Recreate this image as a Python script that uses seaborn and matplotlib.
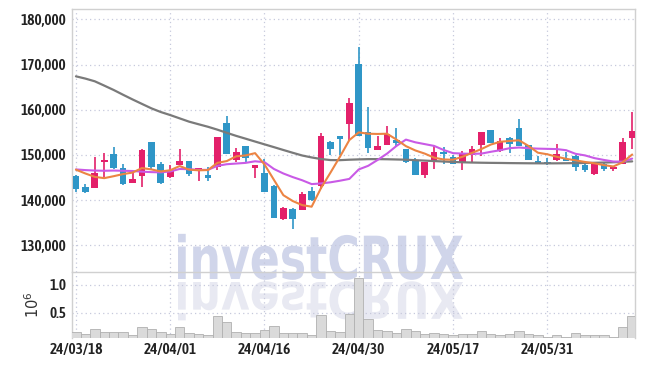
import numpy as np
import pandas as pd
import matplotlib
matplotlib.use('Agg')
import matplotlib.pyplot as plt
import seaborn as sns
from matplotlib import font_manager as fm
from matplotlib.textpath import TextPath
from matplotlib.patches import PathPatch
from matplotlib.font_manager import FontProperties
from matplotlib.transforms import Affine2D

# trading days (KRX), 24/03/18 .. 24/06/14
dates = ['24/03/18', '24/03/19', '24/03/20', '24/03/21', '24/03/22',
         '24/03/25', '24/03/26', '24/03/27', '24/03/28', '24/03/29',
         '24/04/01', '24/04/02', '24/04/03', '24/04/04', '24/04/05',
         '24/04/08', '24/04/09', '24/04/11', '24/04/12', '24/04/15',
         '24/04/16', '24/04/17', '24/04/18', '24/04/19', '24/04/22',
         '24/04/23', '24/04/24', '24/04/25', '24/04/26', '24/04/29',
         '24/04/30', '24/05/02', '24/05/03', '24/05/07', '24/05/08',
         '24/05/09', '24/05/10', '24/05/13', '24/05/14', '24/05/16',
         '24/05/17', '24/05/20', '24/05/21', '24/05/22', '24/05/23',
         '24/05/24', '24/05/27', '24/05/28', '24/05/29', '24/05/30',
         '24/05/31', '24/06/03', '24/06/04', '24/06/05', '24/06/07',
         '24/06/10', '24/06/11', '24/06/12', '24/06/13', '24/06/14']

open_ = [145300, 142900, 142750, 148500, 150250, 147100, 143800, 145400, 152800, 148000,
         145050, 147750, 148650, 146450, 145550, 147250, 157050, 148950, 152000, 147200,
         146000, 143100, 135900, 138100, 137900, 142000, 143200, 152850, 154200, 156900,
         170200, 155150, 151150, 152250, 153300, 151300, 148650, 145500, 148500, 150700,
         149550, 148150, 150050, 152250, 155500, 150850, 153700, 155950, 152200, 148650,
         148450, 148850, 149050, 149850, 147750, 145850, 147900, 146900, 148100, 153800]
high = [145550, 143600, 149500, 150500, 151700, 147900, 146000, 151300, 152800, 148400,
        147700, 151400, 148700, 147100, 147250, 154000, 158600, 151600, 152000, 147800,
        149100, 143300, 138400, 138300, 141800, 143000, 154900, 153000, 154300, 162600,
        173800, 160700, 154200, 156450, 156000, 151400, 149400, 148400, 151900, 151700,
        150000, 150950, 151900, 155100, 155500, 153800, 154000, 157900, 152200, 149800,
        149250, 152400, 150600, 149900, 147900, 148300, 148350, 147400, 153700, 159550]
low = [141800, 141500, 142700, 145050, 147000, 143400, 143700, 142800, 147000, 143600,
       145000, 147700, 145400, 144250, 144300, 146700, 150200, 148350, 148400, 145000,
       141800, 136000, 135600, 133600, 137800, 139900, 142500, 150100, 149900, 153300,
       154300, 150500, 151000, 152200, 151800, 148250, 145500, 144950, 147000, 147900,
       148000, 146650, 148450, 149750, 152550, 150600, 150400, 152000, 148900, 147950,
       147850, 148650, 148600, 146500, 146300, 145500, 146400, 146450, 148000, 151300]
close = [142500, 141700, 146000, 148950, 147100, 143600, 144650, 151100, 147400, 143850,
         146400, 148650, 145700, 147050, 144950, 153900, 150250, 150650, 149400, 147800,
         141850, 136100, 138300, 135900, 141350, 140000, 154250, 151400, 153600, 161400,
         154300, 151600, 151950, 154600, 152550, 148500, 145600, 148350, 150600, 150250,
         148100, 150500, 151350, 155050, 152700, 153050, 152500, 152050, 148950, 148000,
         147950, 150200, 148650, 147300, 146700, 148250, 146850, 147350, 152850, 155300]
volume = [146000, 110000, 200000, 146000, 146000, 146000, 90000, 236000, 200000, 146000,
          110000, 236000, 128000, 110000, 90000, 434000, 326000, 146000, 128000, 128000,
          180000, 254000, 128000, 128000, 128000, 90000, 450000, 163000, 146000, 470000,
          1120000, 380000, 180000, 163000, 128000, 200000, 163000, 110000, 128000, 110000,
          90000, 110000, 110000, 163000, 110000, 90000, 110000, 163000, 110000, 90000,
          70000, 90000, 70000, 128000, 90000, 90000, 90000, 70000, 236000, 434000]

# moving averages as drawn (short / mid / long)
ma_short = [146750, 145900, 145150, 144870, 145300, 145770, 146100, 147100, 146800, 146350,
            146620, 147550, 146750, 146600, 146660, 148250, 148650, 149700, 149900, 150400,
            147900, 144500, 141100, 139800, 138900, 138550, 142700, 146100, 149600, 153300,
            155000, 154700, 154650, 154700, 153400, 151950, 151000, 150300, 149400, 149000,
            148950, 149600, 150450, 151300, 152300, 152920, 153100, 153250, 152000, 150500,
            150150, 149600, 149150, 148800, 148450, 148150, 147750, 147450, 148400, 150100]
ma_mid = [146800, 146650, 146550, 146500, 146550, 146500, 146450, 146300, 146200, 146150,
          146350, 146900, 146850, 146700, 146700, 147600, 147950, 148100, 148250, 148600,
          148400, 146900, 145900, 145100, 144400, 143550, 143700, 143950, 144300, 144700,
          146800, 147600, 148900, 150300, 152000, 153400, 152800, 152400, 152000, 151100,
          150400, 150300, 150250, 150300, 150700, 151050, 151500, 151650, 151500, 151400,
          151350, 151300, 151050, 150250, 149900, 149300, 148900, 148550, 148500, 149200]
ma_long = [167400, 166900, 166300, 165350, 164380, 163320, 162290, 161300, 160320, 159500,
           158830, 158100, 157370, 156800, 156240, 155600, 154900, 154220, 153600, 152970,
           152350, 151730, 151100, 150480, 149880, 149450, 149100, 148870, 148850, 148950,
           149020, 149080, 149080, 149050, 149000, 148950, 148850, 148750, 148650, 148550,
           148450, 148380, 148320, 148280, 148250, 148230, 148200, 148180, 148160, 148150,
           148140, 148150, 148170, 148200, 148230, 148270, 148320, 148390, 148480, 148580]

df = pd.DataFrame({'date': dates, 'open': open_, 'high': high, 'low': low,
                   'close': close, 'volume': volume,
                   'ma_short': ma_short, 'ma_mid': ma_mid, 'ma_long': ma_long})
df['idx'] = np.arange(len(df))
df['up'] = df['close'] >= df['open']

sns.set_theme(style='white')
plt.rcParams['font.family'] = ['DejaVu Sans']


# look for a narrow face for the tick labels, else fall back
def pick_tick_font():
    best = None
    for f in fm.fontManager.ttflist:
        nm = f.name.lower()
        narrow = ('narrow' in nm or 'condensed' in nm or
                  str(f.stretch) in ('condensed', 'semi-condensed', 'extra-condensed'))
        if not narrow:
            continue
        w = f.weight if isinstance(f.weight, int) else (700 if 'bold' in str(f.weight) else 400)
        score = -abs(w - 600)
        if 'oblique' in f.style or 'italic' in f.style:
            continue
        if best is None or score > best[0]:
            best = (score, f.fname)
    if best is not None:
        return FontProperties(fname=best[1], size=11), True
    return FontProperties(family='Liberation Sans', weight='bold', size=9.5), False


tick_fp, is_narrow = pick_tick_font()

UP = '#e3206a'
DOWN = '#2f96c7'
GRID = '#c6c9dc'
SPINE = '#d0d0d0'

fig = plt.figure(figsize=(6.45, 3.66), dpi=100)
W, H = 645.0, 366.0
ax = fig.add_axes([71.7 / W, (H - 272) / H, 563.3 / W, 263 / H])
axv = fig.add_axes([71.7 / W, (H - 337.7) / H, 563.3 / W, 65.7 / H], sharex=ax)

# watermark behind everything
wm = fig.add_axes([0, 0, 1, 1], zorder=-1)
wm.set_xlim(0, W)
wm.set_ylim(H, 0)
wm.axis('off')
tp = TextPath((0, 0), 'investCRUX', size=100,
              prop=FontProperties(family='DejaVu Sans', weight='bold'))
bb = tp.get_extents()
sx = (463 - 178) / bb.width
sy = (279 - 233) / bb.height
tr_main = Affine2D().translate(-bb.x0, 0).scale(sx, -sy).translate(178, 279)
tr_refl = Affine2D().translate(-bb.x0, 0).scale(sx, sy * 0.85).translate(178, 282)
wm.add_patch(PathPatch(tr_main.transform_path(tp), facecolor='#d0d5ea', edgecolor='none'))
wm.add_patch(PathPatch(tr_refl.transform_path(tp), facecolor='#e8e9f2', edgecolor='none'))

for a in (ax, axv):
    a.set_facecolor('none')

# candles
colors = np.where(df['up'], UP, DOWN)
body_lo = np.minimum(df['open'], df['close'])
body_h = np.maximum(np.abs(df['close'] - df['open']), 150)
ax.vlines(df['idx'], df['low'], df['high'], colors=colors, linewidth=1.2, zorder=3)
ax.bar(df['idx'], body_h, bottom=body_lo, width=0.7, color=colors, linewidth=0, zorder=4)

# moving averages
sns.lineplot(data=df, x='idx', y='ma_long', ax=ax, color='#7a7a7a', linewidth=1.6, zorder=5)
sns.lineplot(data=df, x='idx', y='ma_mid', ax=ax, color='#c95ae6', linewidth=1.5, zorder=5)
sns.lineplot(data=df, x='idx', y='ma_short', ax=ax, color='#ec8443', linewidth=1.5, zorder=6)

# volume
sns.barplot(x=df['idx'], y=df['volume'] / 1e6, native_scale=True, width=1.0,
            color='#dadada', edgecolor='#b0b0b0', linewidth=0.6, ax=axv, zorder=3)

ticks = df['idx'][::10]
ax.set_xlim(-0.45, 59.3)
ax.set_ylim(124100, 182300)
ax.set_yticks(range(130000, 180001, 10000))
ax.set_yticklabels([f'{v:,}' for v in range(130000, 180001, 10000)])
axv.set_ylim(0.05, 1.23)
axv.set_yticks([0.5, 1.0])
axv.set_yticklabels(['0.5', '1.0'])
axv.set_xticks(ticks)
axv.set_xticklabels(df['date'][::10])
ax.tick_params(axis='x', labelbottom=False, length=0)

for a in (ax, axv):
    a.set_xlabel('')
    a.set_ylabel('')
    a.grid(True, color=GRID, linestyle=(0, (1, 2.5)), linewidth=0.9)
    a.set_axisbelow(True)
    a.tick_params(axis='both', length=0, labelcolor='#222222', pad=4)
    for lab in a.get_yticklabels() + a.get_xticklabels():
        lab.set_fontproperties(tick_fp)
    for s in a.spines.values():
        s.set_color(SPINE)
        s.set_linewidth(1.0)
axv.spines['bottom'].set_visible(False)
axv.spines['top'].set_visible(False)
axv.set_ylabel(r'$10^6$', fontsize=10.5, color='#333333', labelpad=5)

fig.savefig('out.png', dpi=100)
